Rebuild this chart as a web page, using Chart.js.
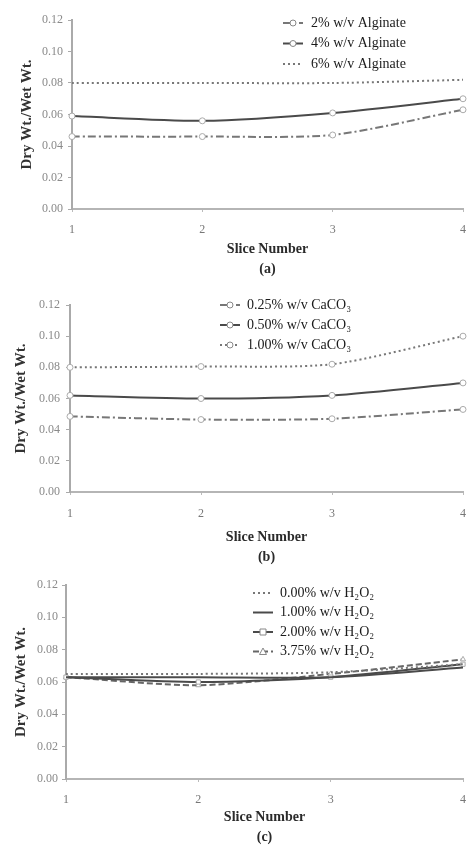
<!DOCTYPE html>
<html>
<head>
<meta charset="utf-8">
<script src="https://cdn.jsdelivr.net/npm/chart.js@4"></script>
<style>
  body { margin: 0; background: #fff; width: 468px; height: 847px; overflow: hidden; position: relative; }
  canvas { position: absolute; left: 0; }
</style>
</head>
<body>
<canvas id="chartA"></canvas>
<canvas id="chartB"></canvas>
<canvas id="chartC"></canvas>
<script>
// x categories and y range
const sliceNumbers = ['1', '2', '3', '4'];
const yMin = 0, yMax = 0.12, yStep = 0.02;
const yTitle = 'Dry Wt./Wet Wt.';
const xTitle = 'Slice Number';

// (a) alginate
const alginateLabels = ['2% w/v Alginate', '4% w/v Alginate', '6% w/v Alginate'];
const alginate2 = [0.046, 0.046, 0.047, 0.063];
const alginate4 = [0.059, 0.056, 0.061, 0.070];
const alginate6 = [0.080, 0.080, 0.080, 0.082];

// (b) CaCO3
const caco3Labels = ['0.25% w/v CaCO\u2083', '0.50% w/v CaCO\u2083', '1.00% w/v CaCO\u2083'];
const caco3_025 = [0.0485, 0.0465, 0.047, 0.053];
const caco3_050 = [0.062, 0.060, 0.062, 0.070];
const caco3_100 = [0.080, 0.0805, 0.082, 0.100];

// (c) H2O2
const h2o2Labels = ['0.00% w/v H\u2082O\u2082', '1.00% w/v H\u2082O\u2082', '2.00% w/v H\u2082O\u2082', '3.75% w/v H\u2082O\u2082'];
const h2o2_000 = [0.065, 0.065, 0.066, 0.071];
const h2o2_100 = [0.063, 0.063, 0.063, 0.069];
const h2o2_200 = [0.063, 0.060, 0.063, 0.071];
const h2o2_375 = [0.063, 0.058, 0.065, 0.074];

const SERIF = '"Liberation Serif", "DejaVu Serif", serif';

// line styles
const solid = { borderColor: '#4a4a4a', borderDash: [] };
const dotted = { borderColor: '#777', borderDash: [2, 3] };
const dashDot = { borderColor: '#777', borderDash: [8, 3, 2, 3] };
const dashed = { borderColor: '#666', borderDash: [6, 3] };

function ds(label, data, style, marker) {
    return {
        label: label, data: data,
        borderColor: style.borderColor, borderDash: style.borderDash, borderWidth: 2,
        pointStyle: marker, pointRadius: 3, pointBackgroundColor: '#fff',
        pointBorderColor: '#aaa', pointBorderWidth: 1,
        tension: 0.25, fill: false
    };
}

// draws the legend inside the plot, one row per dataset
const insideLegend = {
    id: 'insideLegend',
    afterDraw(chart, args, opts) {
        const ctx = chart.ctx;
        ctx.save();
        chart.data.datasets.forEach((d, i) => {
            const y = opts.y + i * opts.rowH;
            ctx.strokeStyle = d.borderColor;
            ctx.lineWidth = 2;
            ctx.setLineDash(d.borderDash);
            ctx.beginPath();
            ctx.moveTo(opts.x, y);
            ctx.lineTo(opts.x + opts.lineLen, y);
            ctx.stroke();
            ctx.setLineDash([]);
            const cx = opts.x + opts.lineLen / 2;
            ctx.fillStyle = '#fff';
            ctx.strokeStyle = '#888';
            ctx.lineWidth = 1;
            ctx.beginPath();
            if (d.pointStyle === 'circle') ctx.arc(cx, y, 3, 0, Math.PI * 2);
            else if (d.pointStyle === 'rect') ctx.rect(cx - 3, y - 3, 6, 6);
            else if (d.pointStyle === 'triangle') { ctx.moveTo(cx, y - 3.5); ctx.lineTo(cx + 3.5, y + 3); ctx.lineTo(cx - 3.5, y + 3); ctx.closePath(); }
            if (d.pointStyle) { ctx.fill(); ctx.stroke(); }
            ctx.fillStyle = '#1a1a1a';
            ctx.font = '14px ' + SERIF;
            ctx.textBaseline = 'middle';
            ctx.textAlign = 'left';
            ctx.fillText(d.label, opts.x + opts.lineLen + opts.gap, y);
        });
        ctx.restore();
    }
};

function makePanel(id, p, datasets, caption, legend) {
    const canvas = document.getElementById(id);
    canvas.width = 468;
    canvas.height = p.height;
    canvas.style.top = p.top + 'px';
    canvas.style.width = '468px';
    canvas.style.height = p.height + 'px';
    return new Chart(canvas.getContext('2d'), {
        type: 'line',
        data: { labels: sliceNumbers, datasets: datasets },
        plugins: [insideLegend],
        options: {
            responsive: false,
            animation: false,
            layout: { padding: { top: p.areaTop, left: 0, right: 2, bottom: 0 } },
            plugins: {
                legend: { display: false },
                tooltip: { enabled: false },
                insideLegend: legend
            },
            scales: {
                x: {
                    offset: false,
                    grid: { drawOnChartArea: false, tickLength: 3, color: '#bbb' },
                    border: { color: '#b5b5b5', width: 2 },
                    ticks: { color: '#777', font: { family: SERIF, size: 12 }, padding: p.xTickPad, maxRotation: 0, autoSkip: false },
                    title: {
                        display: true, text: [xTitle, caption], color: '#2a2a2a',
                        font: { family: SERIF, size: 14, weight: 'bold', lineHeight: '20px' },
                        padding: { top: 0, bottom: p.captionPad }
                    },
                    afterFit: s => { s.height = p.height - p.areaBottom; s.paddingLeft = 0; s.paddingRight = 0; }
                },
                y: {
                    min: yMin, max: yMax,
                    grid: { drawOnChartArea: false, tickLength: 4, color: '#aaa' },
                    border: { color: '#aaa', width: 2, dash: [2, 2] },
                    ticks: { stepSize: yStep, color: '#8a8a8a', font: { family: SERIF, size: 12 }, padding: p.yTickPad,
                        callback: v => v.toFixed(2) },
                    title: {
                        display: true, text: yTitle, color: '#333',
                        font: { family: SERIF, size: 15, weight: 'bold', lineHeight: 1.2 },
                        padding: { top: p.yTitlePad, bottom: 0 }
                    },
                    afterFit: s => { s.width = p.areaLeft; s.paddingTop = 0; s.paddingBottom = 0; }
                }
            }
        }
    });
}

makePanel('chartA',
    { top: 0, height: 280, areaTop: 20, areaBottom: 209, areaLeft: 72, xTickPad: 11, yTickPad: 5, captionPad: 1, yTitlePad: 18 },
    [ds(alginateLabels[0], alginate2, dashDot, 'circle'),
     ds(alginateLabels[1], alginate4, solid, 'circle'),
     ds(alginateLabels[2], alginate6, dotted, false)],
    '(a)', { x: 283, y: 23, rowH: 20.5, lineLen: 20, gap: 8 });

makePanel('chartB',
    { top: 280, height: 287, areaTop: 25, areaBottom: 212, areaLeft: 70, xTickPad: 12, yTickPad: 6, captionPad: 0, yTitlePad: 12 },
    [ds(caco3Labels[0], caco3_025, dashDot, 'circle'),
     ds(caco3Labels[1], caco3_050, solid, 'circle'),
     ds(caco3Labels[2], caco3_100, dotted, 'circle')],
    '(b)', { x: 220, y: 25, rowH: 20, lineLen: 20, gap: 7 });

makePanel('chartC',
    { top: 565, height: 282, areaTop: 20, areaBottom: 214, areaLeft: 66, xTickPad: 11, yTickPad: 4, captionPad: 0, yTitlePad: 12 },
    [ds(h2o2Labels[0], h2o2_000, dotted, false),
     ds(h2o2Labels[1], h2o2_100, solid, false),
     ds(h2o2Labels[2], h2o2_200, solid, 'rect'),
     ds(h2o2Labels[3], h2o2_375, dashed, 'triangle')],
    '(c)', { x: 253, y: 28, rowH: 19.5, lineLen: 20, gap: 7 });
</script>
</body>
</html>
